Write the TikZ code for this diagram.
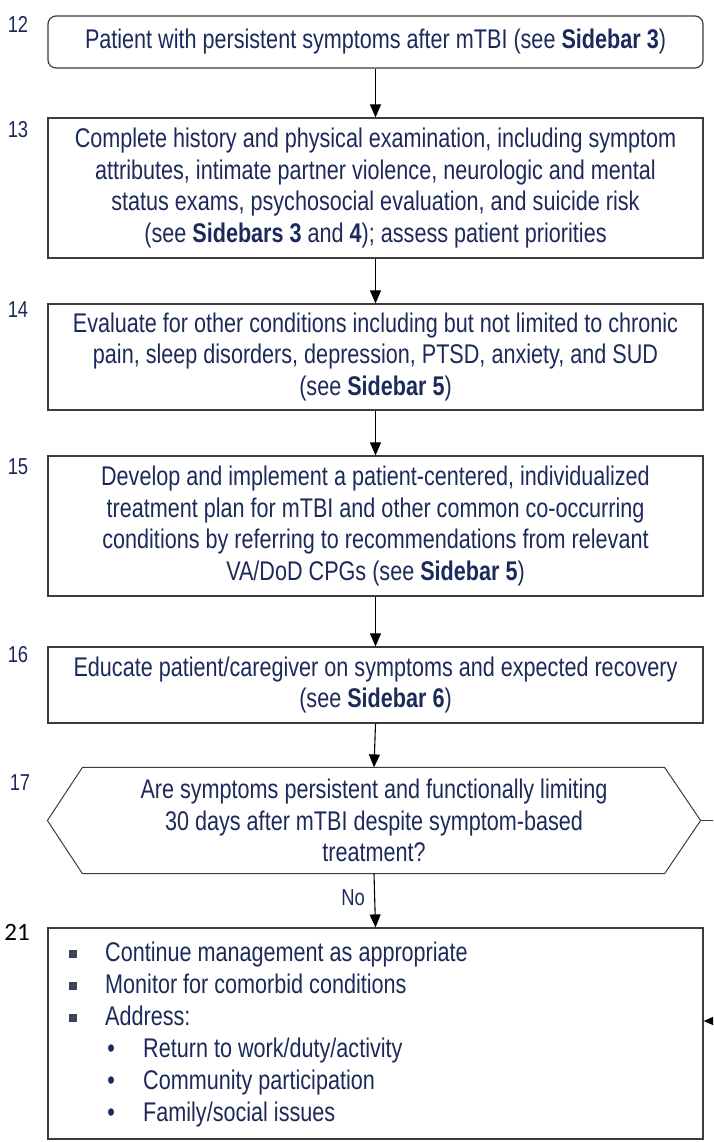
\documentclass[tikz,border=0pt]{standalone}
\usepackage{fontspec}
\setmainfont{Liberation Sans}[FakeStretch=0.8]
\newfontfamily\numfont{Carlito}
\usetikzlibrary{arrows.meta}
\definecolor{navy}{HTML}{1B2A5A}
\definecolor{boxline}{HTML}{3C3C3C}
\definecolor{sqgray}{HTML}{3A4558}
\newcommand{\sqb}{\hspace*{21pt}\textcolor{sqgray}{\rule[3.5pt]{8pt}{8pt}}\hspace*{28pt}}
\newcommand{\rdb}{\hspace*{63pt}\makebox[0pt]{\textbullet}\hspace*{32pt}}
\begin{document}
\begin{tikzpicture}[x=1pt,y=-1pt,
  box/.style={draw=boxline, line width=1.2pt, minimum width=655pt, inner sep=0pt, align=center, text=navy, font=\fontsize{27}{31.5}\selectfont},
  num/.style={text=navy, font=\fontsize{23}{23}\selectfont},
  arr/.style={-{Triangle[length=13pt,width=11pt]}, line width=1.1pt, black},
  hexline/.style={draw=boxline, line width=1pt}]
\useasboundingbox (0,0) rectangle (713,1142);
\clip (0,0) rectangle (713,1142);

\node[box, rounded corners=8pt, minimum height=52pt] (b12) at (375.5,42) {Patient with persistent symptoms after mTBI (see \textbf{Sidebar 3})};
\node[box, minimum height=140pt] (b13) at (375.5,188) {Complete history and physical examination, including symptom\\ attributes, intimate partner violence, neurologic and mental\\ status exams, psychosocial evaluation, and suicide risk\\ (see \textbf{Sidebars 3} and \textbf{4}); assess patient priorities};
\node[box, minimum height=106pt] (b14) at (375.5,357) {Evaluate for other conditions including but not limited to chronic\\ pain, sleep disorders, depression, PTSD, anxiety, and SUD\\ (see \textbf{Sidebar 5})};
\node[box, minimum height=140pt] (b15) at (375.5,526) {Develop and implement a patient-centered, individualized\\ treatment plan for mTBI and other common co-occurring\\ conditions by referring to recommendations from relevant\\ VA/DoD CPGs (see \textbf{Sidebar 5})};
\node[box, minimum height=76pt] (b16) at (375.5,685) {Educate patient/caregiver on symptoms and expected recovery\\ (see \textbf{Sidebar 6})};
\node[box, draw=none, minimum width=652pt, minimum height=105pt] (q17) at (374,820.5) {Are symptoms persistent and functionally limiting\\ 30 days after mTBI despite symptom-based\\ treatment?};
\draw[hexline] (q17.west) -- ([xshift=35pt]q17.north west) -- ([xshift=-36pt]q17.north east) -- (q17.east) -- ([xshift=-36pt]q17.south east) -- ([xshift=35pt]q17.south west) -- cycle;
\node[box, minimum height=211pt] (b21) at (375.5,1033.5) {};
\node[anchor=west, inner sep=0pt, text=navy, align=left, font=\fontsize{27}{32}\selectfont] (l21) at (48,1035) {\sqb Continue management as appropriate\\ \sqb Monitor for comorbid conditions\\ \sqb Address:\\ \rdb Return to work/duty/activity\\ \rdb Community participation\\ \rdb Family/social issues};

\node[num] (n12) at (18,24) {12};
\node[num] (n13) at (18,130) {13};
\node[num] (n14) at (18,310) {14};
\node[num] (n15) at (18,467) {15};
\node[num] (n16) at (18,655) {16};
\node[num] (n17) at (20,783) {17};
\node[font=\numfont\fontsize{25}{25}\selectfont, text=black] (n21) at (17,932) {21};

\draw[arr] (b12.south) -- (b13.north);
\draw[arr] (b13.south) -- (b14.north);
\draw[arr] (b14.south) -- (b15.north);
\draw[arr] (b15.south) -- (b16.north);
\draw[arr] (b16.south) -- (q17.north);
\draw[arr] (q17.south) -- node[pos=0.45, left=6pt, text=navy, font=\fontsize{23}{23}\selectfont] {No} (b21.north);
\coordinate (r17) at (716,820.5);
\draw[hexline] (q17.east) -- (r17);
\coordinate (r21) at (725,1021);
\draw[arr] (r21) -- (r21 -| b21.east);
\end{tikzpicture}
\end{document}
